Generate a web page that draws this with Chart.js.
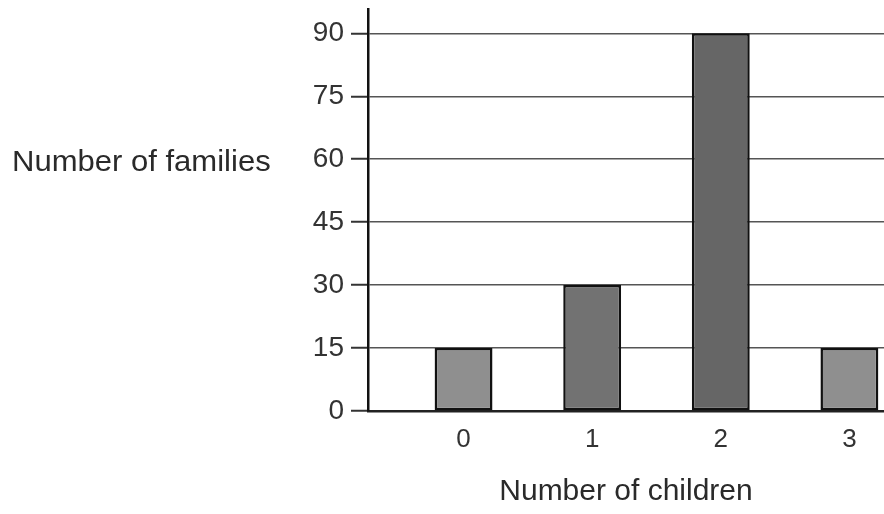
<!DOCTYPE html>
<html>
<head>
<meta charset="utf-8">
<script src="https://cdn.jsdelivr.net/npm/chart.js@4.4.1/dist/chart.umd.min.js"></script>
<style>
  body { margin: 0; background: #fff; }
  #wrap { position: relative; width: 884px; height: 514px; }
  #yTitle {
    position: absolute; left: 12px; top: 147px;
    font-family: "Liberation Sans", Arial, sans-serif;
    font-size: 29px; line-height: 1; color: #2a2a2a; white-space: nowrap;
    transform: scaleX(1.07); transform-origin: left center;
  }
</style>
</head>
<body>
<div id="wrap">
  <canvas id="barChart" width="884" height="514"></canvas>
  <div id="yTitle">Number of families</div>
</div>
<script>
// data
var childCounts = ['0', '1', '2', '3'];
var familyCounts = [15, 30, 90, 15];
var yTicks = [0, 15, 30, 45, 60, 75, 90];
var barColors = ['#8f8f8f', '#727272', '#666666', '#8f8f8f'];

var FONT = '"Liberation Sans", Arial, sans-serif';

var points = childCounts.map(function (c, i) {
    return { x: i, y: familyCounts[i] };
});

var ctx = document.getElementById('barChart').getContext('2d');
var barChart = new Chart(ctx, {
    type: 'bar',
    data: {
        datasets: [{
            data: points,
            backgroundColor: barColors,
            borderColor: '#111',
            borderWidth: 2.5,
            borderSkipped: false,
            barPercentage: 0.5,
            categoryPercentage: 0.9
        }]
    },
    options: {
        responsive: false,
        animation: false,
        devicePixelRatio: 1,
        layout: { padding: { top: 9, right: 0, left: 0, bottom: 0 } },
        plugins: {
            legend: { display: false },
            tooltip: { enabled: false }
        },
        scales: {
            x: {
                type: 'linear',
                offset: false,
                min: -0.743,
                max: 3.269,
                afterBuildTicks: function (scale) {
                    scale.ticks = childCounts.map(function (c, i) { return { value: i }; });
                },
                afterFit: function (scale) {
                    scale.height = 103;
                    scale.paddingLeft = 0;
                    scale.paddingRight = 0;
                },
                ticks: {
                    padding: 13,
                    color: '#333',
                    font: { family: FONT, size: 26 },
                    callback: function (v) { return childCounts[v]; }
                },
                grid: { display: false, drawTicks: false },
                border: { display: true, color: '#222', width: 2.5 },
                title: {
                    display: true,
                    text: 'Number of children',
                    color: '#2a2a2a',
                    font: { family: FONT, size: 30 },
                    padding: { top: 0, bottom: 4 }
                }
            },
            y: {
                min: 0,
                max: 95.8,
                afterBuildTicks: function (scale) {
                    scale.ticks = yTicks.map(function (v) { return { value: v }; });
                },
                afterFit: function (scale) {
                    scale.width = 368;
                    scale.paddingTop = 0;
                    scale.paddingBottom = 0;
                },
                ticks: {
                    padding: 7,
                    color: '#333',
                    font: { family: FONT, size: 28 }
                },
                grid: {
                    color: '#555',
                    lineWidth: 1.5,
                    tickLength: 17,
                    tickColor: '#333',
                    tickWidth: 2
                },
                border: { display: true, color: '#111', width: 2.5 }
            }
        }
    }
});
</script>
</body>
</html>
